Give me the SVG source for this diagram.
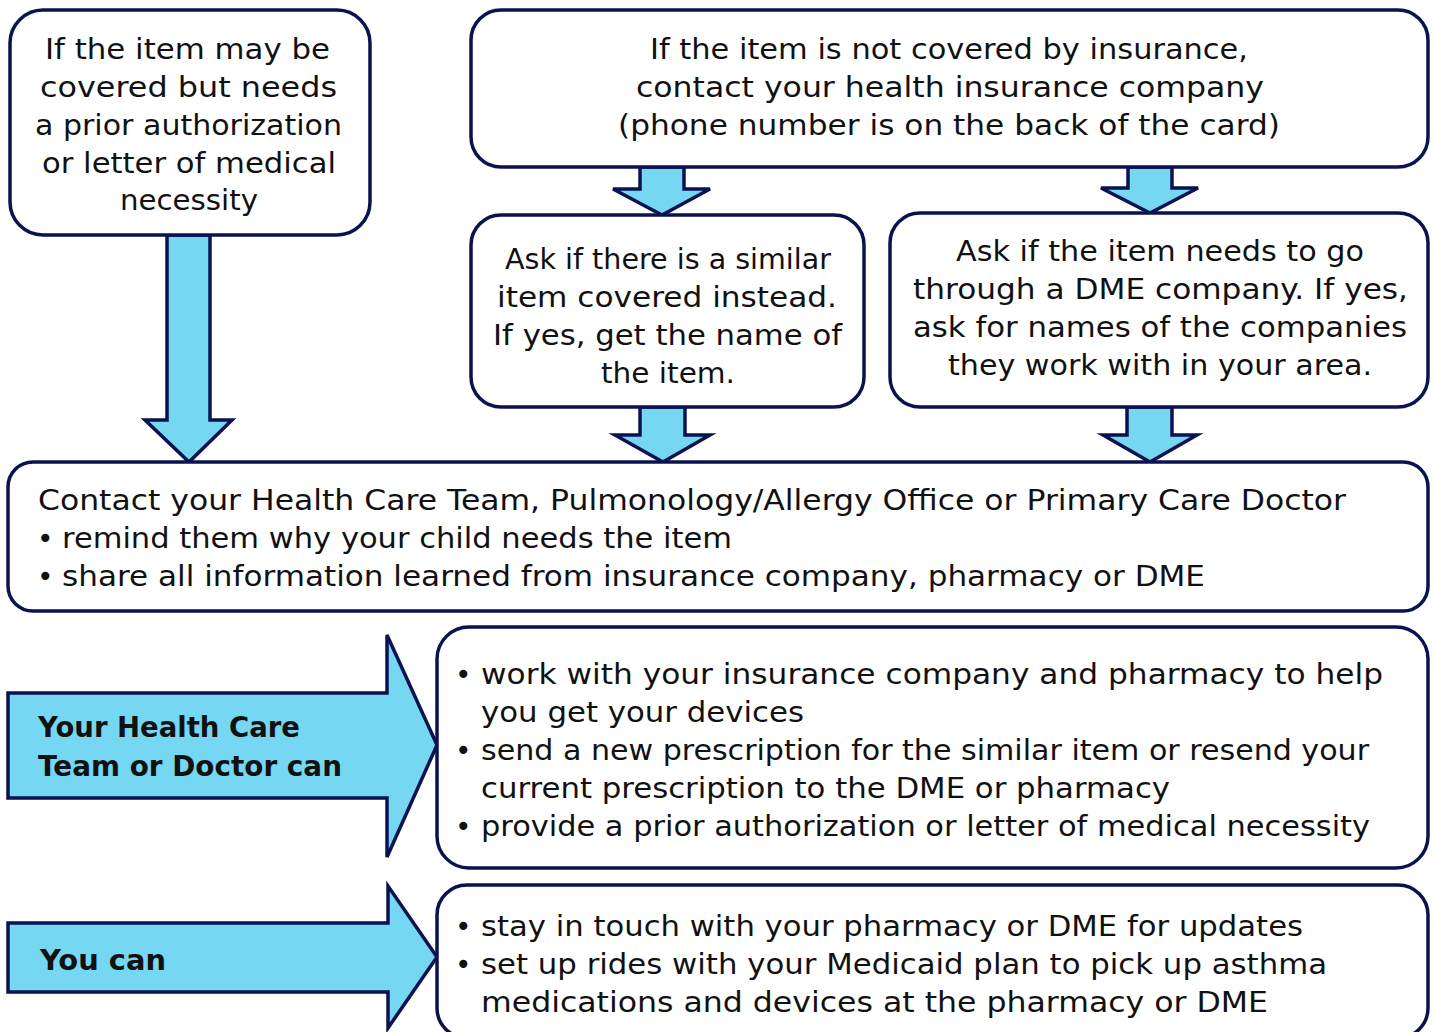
<svg xmlns="http://www.w3.org/2000/svg" width="1435" height="1032" viewBox="0 0 1435 1032">
<style>
.box{fill:#fff;stroke:#0b1250;stroke-width:3.5}
.arr{fill:#75d7f2;stroke:#0b1250;stroke-width:3.5;stroke-linejoin:miter}
.t{font-family:"DejaVu Sans","Liberation Sans",sans-serif;font-size:28px;fill:#111}
.b{font-family:"DejaVu Sans","Liberation Sans",sans-serif;font-size:28px;font-weight:bold;fill:#111}
</style>
<rect width="1435" height="1032" fill="#fff"/>
<g id="connectors">
<polygon class="arr" points="167,235 210,235 210,420 232,420 189,462 145,420 167,420"/>
<polygon class="arr" points="640,167 684,167 684,189 710,189 662,215 613,189 640,189"/>
<polygon class="arr" points="1128,167 1172,167 1172,188 1198,188 1150,213 1101,188 1128,188"/>
<polygon class="arr" points="640,407 685,407 685,435 710,435 663,462 615,435 640,435"/>
<polygon class="arr" points="1127,407 1172,407 1172,435 1197,435 1150,462 1103,435 1127,435"/>
</g>
<g id="node-prior-auth">
<rect class="box" x="10" y="10" width="360" height="225" rx="33"/>
<text class="t"><tspan x="45" y="59" textLength="285" lengthAdjust="spacingAndGlyphs">If the item may be</tspan><tspan x="40" y="97" textLength="297" lengthAdjust="spacingAndGlyphs">covered but needs</tspan><tspan x="35" y="135" textLength="307" lengthAdjust="spacingAndGlyphs">a prior authorization</tspan><tspan x="42" y="173" textLength="294" lengthAdjust="spacingAndGlyphs">or letter of medical</tspan><tspan x="120" y="210" textLength="138" lengthAdjust="spacingAndGlyphs">necessity</tspan></text>
</g>
<g id="node-not-covered">
<rect class="box" x="471" y="10" width="957" height="157" rx="30"/>
<text class="t"><tspan x="650" y="59" textLength="598" lengthAdjust="spacingAndGlyphs">If the item is not covered by insurance,</tspan><tspan x="636" y="97" textLength="628" lengthAdjust="spacingAndGlyphs">contact your health insurance company</tspan><tspan x="618" y="135" textLength="662" lengthAdjust="spacingAndGlyphs">(phone number is on the back of the card)</tspan></text>
</g>
<g id="node-similar">
<rect class="box" x="471" y="215" width="393" height="192" rx="30"/>
<text class="t"><tspan x="505" y="269" textLength="326" lengthAdjust="spacingAndGlyphs">Ask if there is a similar</tspan><tspan x="497" y="307" textLength="340" lengthAdjust="spacingAndGlyphs">item covered instead.</tspan><tspan x="493" y="345" textLength="349" lengthAdjust="spacingAndGlyphs">If yes, get the name of</tspan><tspan x="601" y="383" textLength="134" lengthAdjust="spacingAndGlyphs">the item.</tspan></text>
</g>
<g id="node-dme">
<rect class="box" x="890" y="213" width="538" height="194" rx="30"/>
<text class="t"><tspan x="956" y="261" textLength="408" lengthAdjust="spacingAndGlyphs">Ask if the item needs to go</tspan><tspan x="913" y="299" textLength="495" lengthAdjust="spacingAndGlyphs">through a DME company. If yes,</tspan><tspan x="913" y="337" textLength="494" lengthAdjust="spacingAndGlyphs">ask for names of the companies</tspan><tspan x="948" y="375" textLength="424" lengthAdjust="spacingAndGlyphs">they work with in your area.</tspan></text>
</g>
<g id="node-contact">
<rect class="box" x="8" y="462" width="1420" height="149" rx="25"/>
<text class="t" x="38" y="510" textLength="1308" lengthAdjust="spacingAndGlyphs">Contact your Health Care Team, Pulmonology/Allergy Office or Primary Care Doctor</text>
<text class="t" x="37" y="548">•</text>
<text class="t" x="62" y="548" textLength="670" lengthAdjust="spacingAndGlyphs">remind them why your child needs the item</text>
<text class="t" x="37" y="586">•</text>
<text class="t" x="62" y="586" textLength="1143" lengthAdjust="spacingAndGlyphs">share all information learned from insurance company, pharmacy or DME</text>
</g>
<g id="node-team-label">
<polygon class="arr" points="8,693 387,693 387,635 437,745 387,857 387,798 8,798"/>
<text class="b"><tspan x="38" y="737" textLength="262" lengthAdjust="spacingAndGlyphs">Your Health Care</tspan><tspan x="38" y="776" textLength="304" lengthAdjust="spacingAndGlyphs">Team or Doctor can</tspan></text>
</g>
<g id="node-team-actions">
<rect class="box" x="437" y="627" width="991" height="241" rx="32"/>
<text class="t" x="455" y="684">•</text>
<text class="t" x="481" y="684" textLength="902" lengthAdjust="spacingAndGlyphs">work with your insurance company and pharmacy to help</text>
<text class="t" x="481" y="722" textLength="323" lengthAdjust="spacingAndGlyphs">you get your devices</text>
<text class="t" x="455" y="760">•</text>
<text class="t" x="481" y="760" textLength="888" lengthAdjust="spacingAndGlyphs">send a new prescription for the similar item or resend your</text>
<text class="t" x="481" y="798" textLength="689" lengthAdjust="spacingAndGlyphs">current prescription to the DME or pharmacy</text>
<text class="t" x="455" y="836">•</text>
<text class="t" x="481" y="836" textLength="889" lengthAdjust="spacingAndGlyphs">provide a prior authorization or letter of medical necessity</text>
</g>
<g id="node-you-label">
<polygon class="arr" points="8,923 388,923 388,886 437,957 388,1028 388,992 8,992"/>
<text class="b" x="40" y="970" textLength="126" lengthAdjust="spacingAndGlyphs">You can</text>
</g>
<g id="node-you-actions">
<rect class="box" x="437" y="885" width="991" height="153" rx="30"/>
<text class="t" x="455" y="936">•</text>
<text class="t" x="481" y="936" textLength="822" lengthAdjust="spacingAndGlyphs">stay in touch with your pharmacy or DME for updates</text>
<text class="t" x="455" y="974">•</text>
<text class="t" x="481" y="974" textLength="846" lengthAdjust="spacingAndGlyphs">set up rides with your Medicaid plan to pick up asthma</text>
<text class="t" x="481" y="1012" textLength="787" lengthAdjust="spacingAndGlyphs">medications and devices at the pharmacy or DME</text>
</g>
</svg>
